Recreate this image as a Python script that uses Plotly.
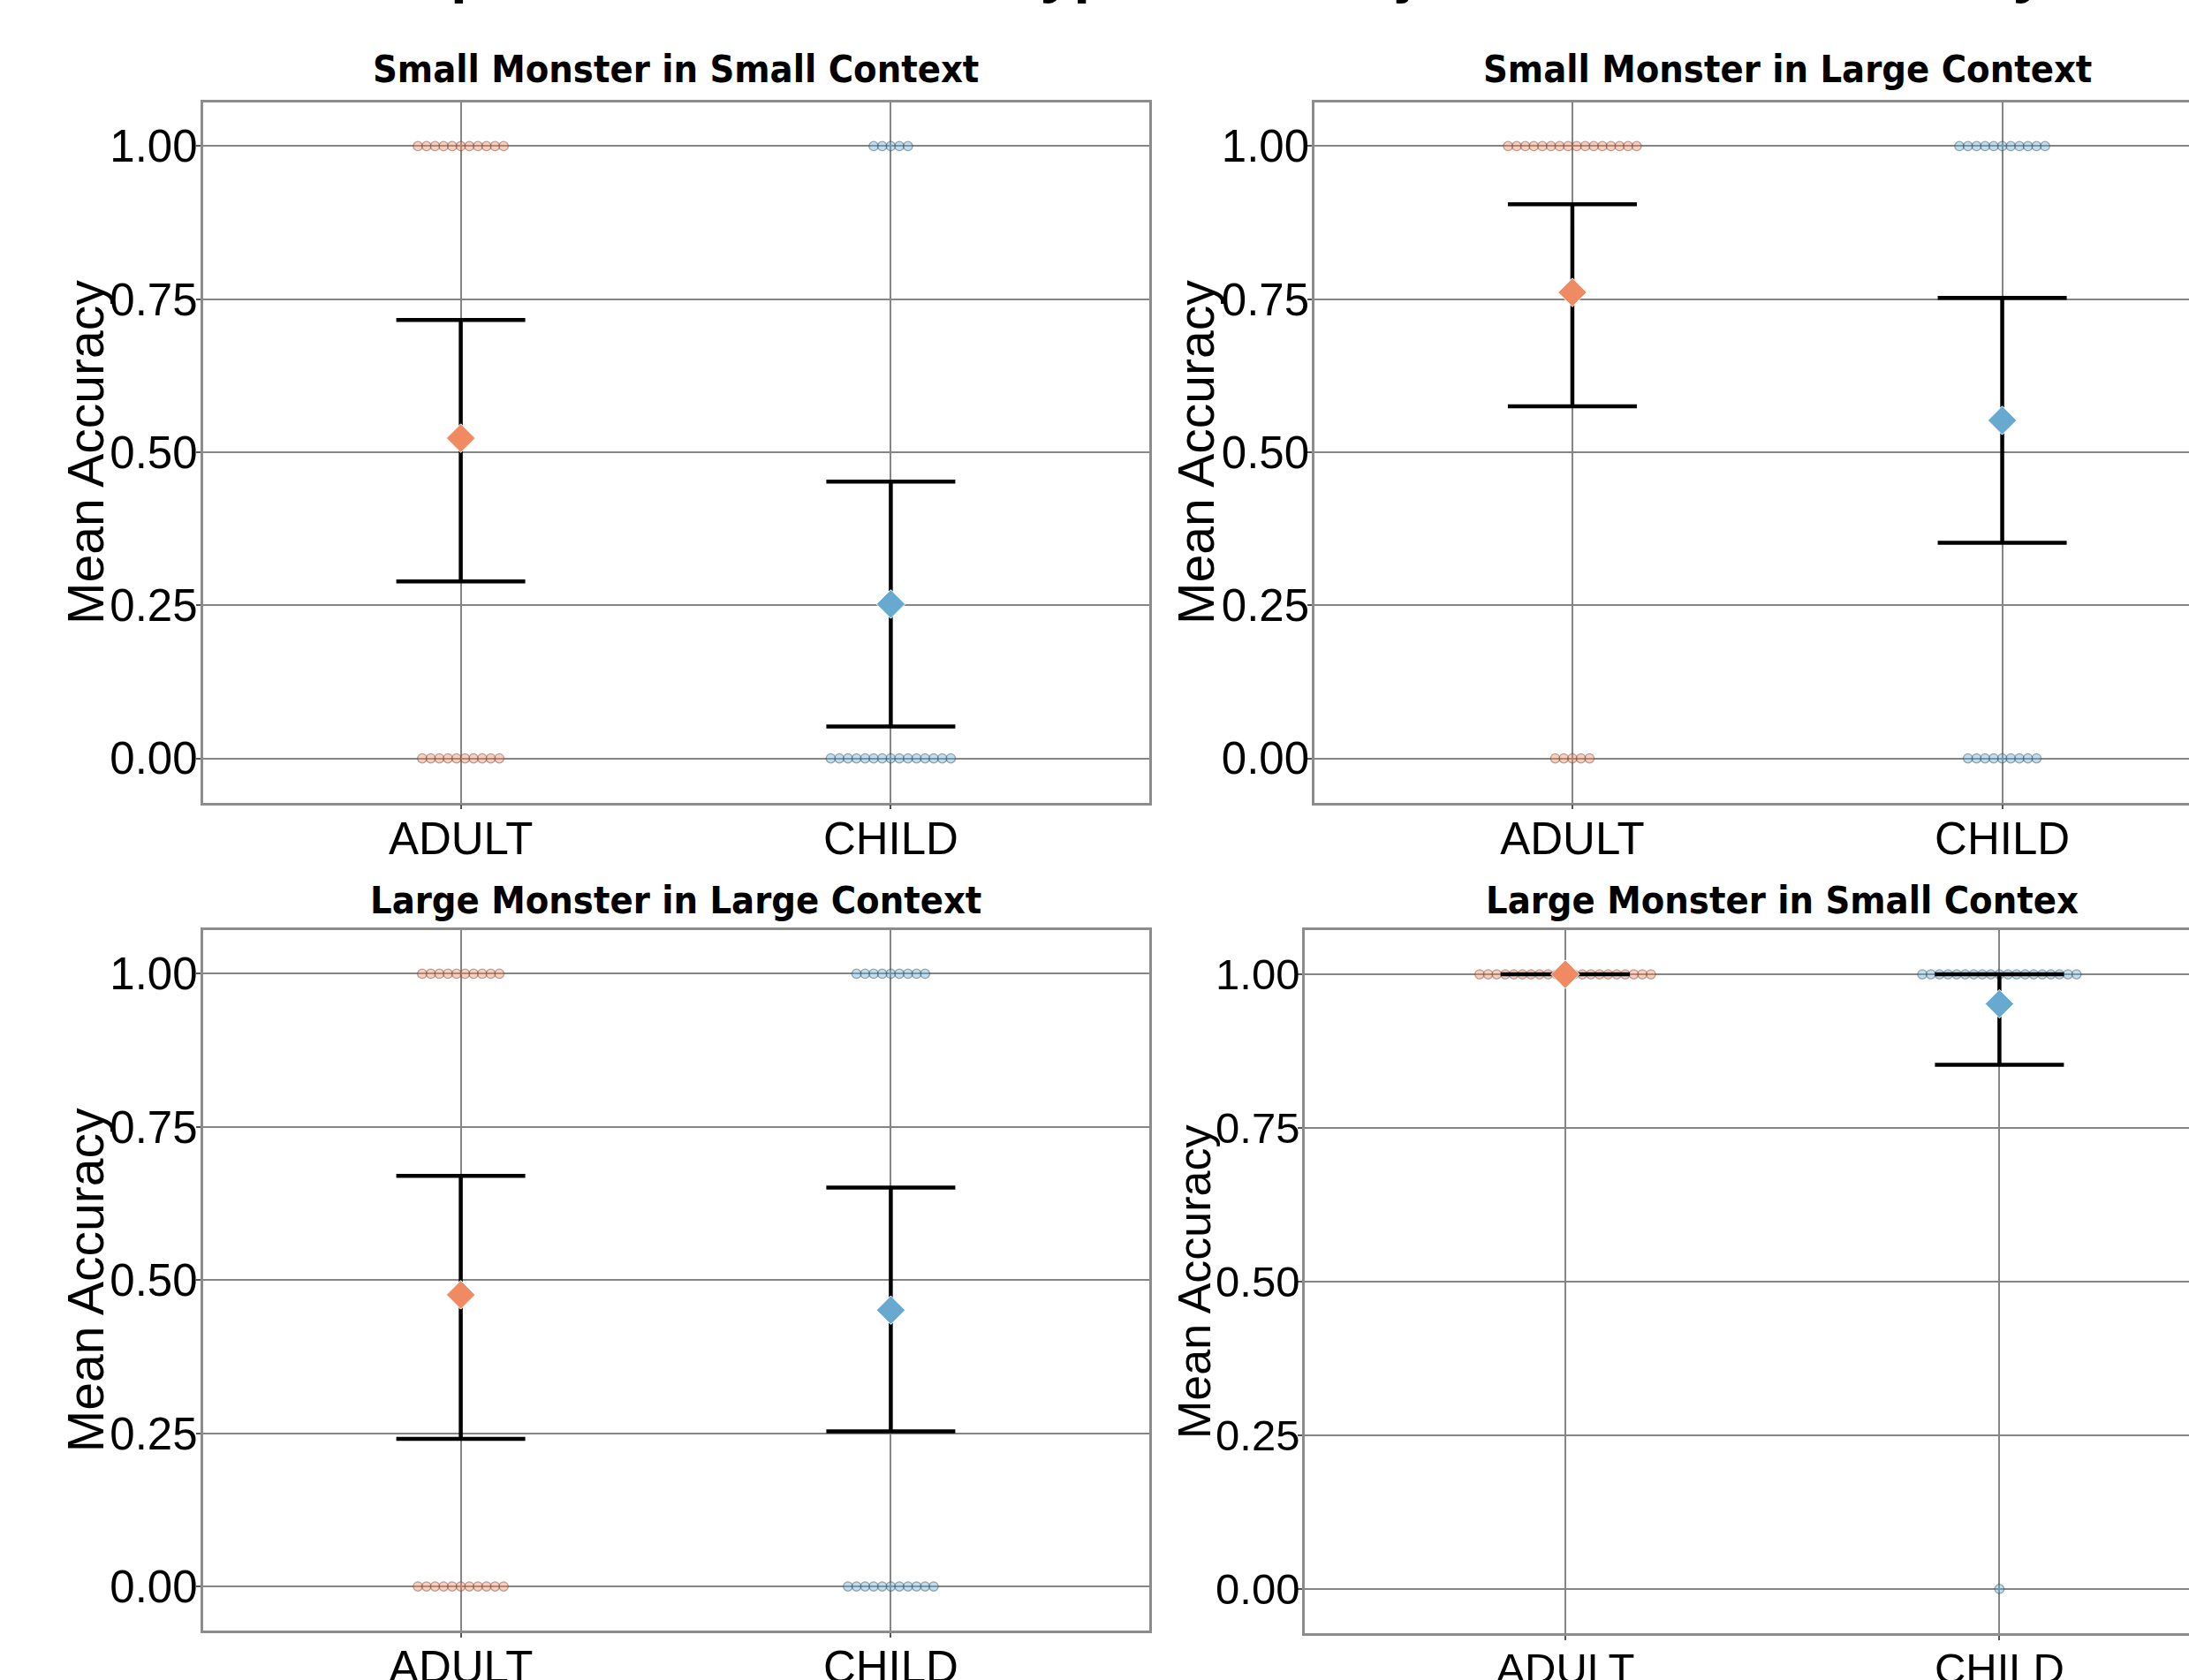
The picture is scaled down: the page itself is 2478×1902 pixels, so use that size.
import plotly.graph_objects as go

# ---------------- data ----------------
categories = ["ADULT", "CHILD"]
panel_titles = ["Small Monster in Small Context", "Small Monster in Large Context",
                "Large Monster in Large Context", "Large Monster in Small Contex"]
# number of subjects scoring 1 (correct) and 0 (incorrect), [adult, child]
n_correct = [[11, 5], [16, 11], [10, 9], [21, 19]]
n_incorrect = [[10, 15], [5, 9], [11, 11], [0, 1]]
# mean accuracy and CI bounds, [adult, child]
mean_acc = [[0.523, 0.252], [0.761, 0.552], [0.476, 0.451], [1.000, 0.952]]
ci_low = [[0.289, 0.052], [0.575, 0.352], [0.241, 0.253], [1.000, 0.853]]
ci_high = [[0.716, 0.452], [0.905, 0.752], [0.670, 0.651], [1.000, 1.000]]
y_ticks = [0.0, 0.25, 0.5, 0.75, 1.0]
main_title = "Comparison of Monster Type and Subject on Mean Accuracy"

# ---------------- layout / style ----------------
W, H = 2478, 1902
# panel geometry in pixels: (x0, x1, y_top, y_bottom, px per x unit, x range end)
panels = [
    (229.5, 1300.5, 115.5, 908.5, 486.6, 2.6),
    (1488.0, 2478.0, 115.5, 908.5, 486.6, 0.4 + 990.0 / 486.6),
    (229.5, 1300.5, 1052.5, 1846.0, 486.6, 2.6),
    (1477.0, 2478.0, 1053.0, 1849.0, 491.5, 0.4 + 1001.0 / 491.5),
]
tick_sizes = [51, 51, 51, 49]
ytitle_sizes = [57, 57, 57, 52]
ytitle_x = [97, 1354, 97, 1352]
title_offsets = [37, 37, 34, 34]
fill_cols = ["rgba(239,138,98,0.40)", "rgba(103,169,207,0.40)"]
line_cols = ["rgba(110,60,45,0.45)", "rgba(40,70,90,0.45)"]
mean_cols = ["#EF8A62", "#67A9CF"]
grid_col = "#858585"
border_col = "#8C8C8C"
narrow_bold = "Liberation Sans Narrow, DejaVu Sans Condensed, Liberation Sans, sans-serif"
regular = "Liberation Sans, Arial, sans-serif"

DOT_STEP_PX = 9.7
DOT_SIZE = 10.5

fig = go.Figure()
layout = {}
annotations = []

for p in range(4):
    x0, x1, yt, yb, ppu, xend = panels[p]
    sfx = "" if p == 0 else str(p + 1)
    xa, ya = "x" + sfx, "y" + sfx
    step = DOT_STEP_PX / ppu
    for g in range(2):
        xs, ys = [], []
        for val, n in ((1.0, n_correct[p][g]), (0.0, n_incorrect[p][g])):
            for i in range(n):
                xs.append(g + 1 + (i - (n - 1) / 2.0) * step)
                ys.append(val)
        fig.add_trace(go.Scatter(
            x=xs, y=ys, mode="markers", xaxis=xa, yaxis=ya, showlegend=False,
            hoverinfo="skip",
            marker=dict(size=DOT_SIZE, color=fill_cols[g],
                        line=dict(color=line_cols[g], width=1.3))))
    for g in range(2):
        m = mean_acc[p][g]
        fig.add_trace(go.Scatter(
            x=[g + 1], y=[m], mode="markers", xaxis=xa, yaxis=ya, showlegend=False,
            marker=dict(symbol="diamond", size=25, color=mean_cols[g],
                        line=dict(color="white", width=1)),
            error_y=dict(type="data", symmetric=False,
                         array=[ci_high[p][g] - m], arrayminus=[m - ci_low[p][g]],
                         color="black", thickness=4.5, width=73)))

    right_panel = (p % 2 == 1)
    layout["xaxis" + sfx] = dict(
        domain=[x0 / W, x1 / W], anchor=ya, range=[0.4, xend], automargin=False,
        tickvals=[1, 2], ticktext=categories, showgrid=True, gridcolor=grid_col,
        gridwidth=2, zeroline=False, showline=True, linecolor=border_col, linewidth=2.5,
        mirror=True, ticks="outside", ticklen=5, tickwidth=2, tickcolor="#555555",
        ticklabelstandoff=-10,
        tickfont=dict(family=regular, size=tick_sizes[p], color="black"),
        fixedrange=True)
    layout["yaxis" + sfx] = dict(
        domain=[1 - yb / H, 1 - yt / H], anchor=xa, range=[-0.072, 1.072],
        automargin=False,
        tickvals=y_ticks, tickformat=".2f", showgrid=True, gridcolor=grid_col,
        gridwidth=2, zeroline=False, showline=True, linecolor=border_col, linewidth=2.5,
        mirror=(not right_panel), ticks="outside", ticklen=5, tickwidth=2,
        tickcolor="#555555", ticklabelstandoff=-12,
        tickfont=dict(family=regular, size=tick_sizes[p], color="black"),
        fixedrange=True)
    # panel title, centred on the full (uncropped) panel width
    full_w = 2.2 * ppu
    annotations.append(dict(
        text="<b>" + panel_titles[p] + "</b>", xref="paper", yref="paper",
        x=(x0 + full_w / 2) / W, y=1 - (yt - title_offsets[p]) / H, xanchor="center",
        yanchor="middle", showarrow=False,
        font=dict(family=narrow_bold, size=43, color="black")))
    # y axis title
    annotations.append(dict(
        text="Mean Accuracy", xref="paper", yref="paper",
        x=ytitle_x[p] / W, y=1 - (yt + yb) / 2 / H, xanchor="center",
        yanchor="middle", textangle=-90, showarrow=False,
        font=dict(family=regular, size=ytitle_sizes[p], color="black")))

# main title, mostly cut off above the top edge
annotations.append(dict(
    text="<b>" + main_title + "</b>", xref="paper", yref="paper",
    x=1337 / W, y=1 - 6 / H, xanchor="center", yanchor="bottom", showarrow=False,
    font=dict(family=regular, size=68, color="black")))

fig.update_layout(
    width=W, height=H, margin=dict(l=0, r=0, t=0, b=0, autoexpand=False),
    paper_bgcolor="white", plot_bgcolor="white", showlegend=False,
    annotations=annotations, **layout)

fig.write_html("out.html", config={"displayModeBar": False},
               post_script="document.body.style.margin='0';document.body.style.overflow='hidden';")
